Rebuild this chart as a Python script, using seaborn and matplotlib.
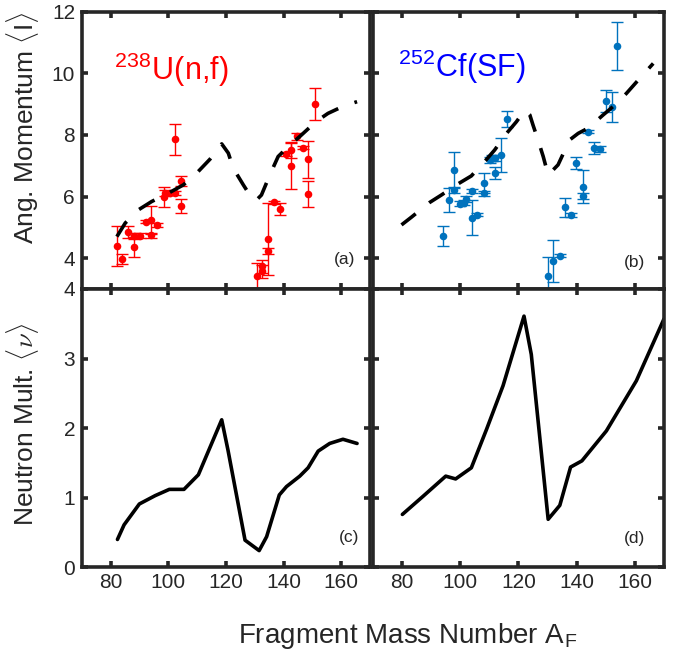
import matplotlib
matplotlib.use('Agg')
import matplotlib.pyplot as plt
import seaborn as sns
import pandas as pd

sns.set_style('ticks')
plt.rcParams['font.family'] = ['Liberation Sans', 'DejaVu Sans']
plt.rcParams['mathtext.fontset'] = 'cm'

# (a) 238U(n,f) angular momentum data
u_mass = [82.1, 84.0, 86.1, 88.2, 88.2, 90.2, 92.2, 94.1, 94.1, 96.2, 98.4, 98.8,
          100.6, 102.4, 102.3, 104.4, 104.4, 130.6, 132.6, 132.6, 134.7, 134.7,
          136.6, 138.7, 140.8, 142.6, 142.6, 144.8, 146.8, 148.6, 148.6, 150.8]
u_spin = [4.40, 3.97, 4.86, 4.36, 4.72, 4.73, 5.19, 5.24, 4.74, 5.08, 5.98, 6.11,
          6.11, 6.11, 7.86, 6.51, 5.70, 3.43, 3.57, 3.73, 4.63, 4.24,
          5.81, 5.59, 7.38, 7.51, 7.00, 7.95, 7.58, 7.21, 6.08, 9.00]
u_err = [0.65, 0.15, 0.20, 0.32, 0.10, 0.08, 0.06, 0.45, 0.08, 0.06, 0.32, 0.10,
         0.06, 0.06, 0.50, 0.17, 0.22, 0.40, 0.22, 0.20, 1.16, 0.10,
         0.04, 0.20, 0.06, 0.25, 0.75, 0.12, 0.05, 0.60, 0.42, 0.53]

# (b) 252Cf(SF) angular momentum data
cf_mass = [94.1, 96.0, 98.0, 98.0, 100.0, 101.3, 102.1, 104.1, 104.1, 105.9, 108.1, 108.1,
           110.1, 111.0, 112.0, 112.0, 113.9, 115.9, 130.2, 131.9, 134.2, 136.1, 138.0,
           139.9, 142.0, 142.0, 143.9, 145.9, 147.9, 150.0, 152.2, 154.0]
cf_spin = [4.72, 5.89, 6.86, 6.22, 5.76, 5.80, 5.91, 6.19, 5.32, 5.41, 6.11, 6.43,
           7.19, 7.25, 6.76, 7.24, 7.35, 8.52, 3.43, 3.91, 4.08, 5.65, 5.41,
           7.10, 6.32, 6.02, 8.11, 7.57, 7.55, 9.10, 8.92, 10.89]
cf_err = [0.32, 0.40, 0.58, 0.10, 0.08, 0.08, 0.10, 0.06, 0.58, 0.05, 0.08, 0.33,
          0.10, 0.10, 0.20, 0.10, 0.54, 0.27, 0.60, 0.69, 0.05, 0.30, 0.07,
          0.19, 0.54, 0.10, 0.06, 0.20, 0.10, 0.35, 0.49, 0.77]

# model curves (dashed)
u_model_mass = [82.1, 85.0, 89.6, 94.2, 100.0, 105.2, 109.8, 114.4, 118.5, 120.8, 122.5,
                126.0, 129.2, 130.6, 132.3, 135.2, 138.1, 141.6, 146.2, 151.2, 155.4, 160.9, 165.5]
u_model_spin = [4.70, 5.14, 5.57, 5.84, 6.11, 6.38, 6.76, 7.21, 7.71, 7.41, 6.92,
                6.38, 5.91, 5.89, 6.05, 6.70, 7.30, 7.62, 8.00, 8.43, 8.70, 8.94, 9.08]
cf_model_mass = [79.8, 83.2, 89.5, 93.5, 99.2, 103.8, 108.4, 111.8, 115.9, 119.3, 122.2,
                 123.9, 125.0, 126.7, 128.5, 130.2, 133.6, 136.5, 137.6, 140.5, 143.9,
                 149.1, 153.1, 157.1, 161.7, 166.3]
cf_model_spin = [5.08, 5.33, 5.81, 6.05, 6.41, 6.67, 7.14, 7.51, 8.05, 8.43, 8.81,
                 8.65, 8.32, 7.84, 7.30, 6.70, 7.03, 7.62, 7.84, 8.05, 8.22,
                 8.65, 8.97, 9.35, 9.84, 10.32]

# (c), (d) neutron multiplicity
u_nu_mass = [82.3, 84.6, 89.9, 95.4, 100.3, 105.4, 110.4, 118.5, 120.7, 126.6, 131.5,
             134.1, 138.5, 141.0, 145.6, 148.5, 152.0, 156.0, 160.6, 165.5]
u_nu = [0.40, 0.61, 0.91, 1.03, 1.12, 1.12, 1.33, 2.12, 1.68, 0.39, 0.24,
        0.44, 1.04, 1.16, 1.31, 1.43, 1.67, 1.78, 1.84, 1.78]
cf_nu_mass = [80.1, 87.2, 95.0, 98.4, 103.8, 109.0, 114.7, 121.9, 124.4, 130.2, 134.2,
              137.9, 141.8, 150.2, 160.5, 170.0]
cf_nu = [0.76, 1.02, 1.31, 1.27, 1.43, 1.98, 2.61, 3.61, 3.06, 0.69, 0.89,
         1.44, 1.53, 1.96, 2.68, 3.57]

RED = '#ff0000'
BLUE = '#0072bd'
SPINE = '#262626'

fig = plt.figure(figsize=(6.87, 6.55), dpi=100)
ax_a = fig.add_axes([0.1194, 0.5588, 0.4192, 0.4233])
ax_b = fig.add_axes([0.5429, 0.5588, 0.4236, 0.4233])
ax_c = fig.add_axes([0.1194, 0.1339, 0.4192, 0.4249])
ax_d = fig.add_axes([0.5429, 0.1339, 0.4236, 0.4249])


def spin_panel(ax, mass, spin, err, color, mmass, mspin):
    df = pd.DataFrame({'A': mass, 'I': spin})
    ax.errorbar(mass, spin, yerr=err, fmt='none', ecolor=color, elinewidth=1,
                capsize=4, capthick=1, zorder=2)
    sns.scatterplot(data=df, x='A', y='I', ax=ax, color=color, s=30,
                    edgecolor=color, linewidth=0, zorder=3)
    sns.lineplot(x=mmass, y=mspin, ax=ax, color='black', lw=2.6, sort=False,
                 estimator=None, linestyle=(0, (5, 4.8)), zorder=4)
    ax.set_ylim(3, 12)
    ax.set_yticks([4, 6, 8, 10, 12])


def nu_panel(ax, mass, nu):
    sns.lineplot(x=mass, y=nu, ax=ax, color='black', lw=2.6, sort=False, estimator=None)
    ax.set_ylim(0, 4)
    ax.set_yticks([0, 1, 2, 3, 4])


spin_panel(ax_a, u_mass, u_spin, u_err, RED, u_model_mass, u_model_spin)
spin_panel(ax_b, cf_mass, cf_spin, cf_err, BLUE, cf_model_mass, cf_model_spin)
nu_panel(ax_c, u_nu_mass, u_nu)
nu_panel(ax_d, cf_nu_mass, cf_nu)

for ax in [ax_a, ax_b, ax_c, ax_d]:
    ax.set_xlim(70, 170)
    ax.set_xticks([80, 100, 120, 140, 160])
    ax.set_xlabel('')
    ax.set_ylabel('')
    for s in ax.spines.values():
        s.set_visible(True)
        s.set_linewidth(2.6)
        s.set_color(SPINE)
    ax.tick_params(direction='in', length=4, width=2.6, color=SPINE,
                   top=True, right=True, labelsize=15, labelcolor='#262626', pad=5)

for ax in [ax_a, ax_b]:
    ax.tick_params(labelbottom=False)
for ax in [ax_b, ax_d]:
    ax.tick_params(labelleft=False)
for ax in [ax_c, ax_d]:
    ax.tick_params(axis='x', pad=4)

ax_a.text(0.108, 0.755, r'$^{\mathregular{238}}$U(n,f)', transform=ax_a.transAxes,
          color=RED, fontsize=22, ha='left', va='baseline')
ax_b.text(0.082, 0.765, r'$^{\mathregular{252}}$Cf(SF)', transform=ax_b.transAxes,
          color='#0000ff', fontsize=22, ha='left', va='baseline')

for ax, lab, xf, yf in [(ax_a, '(a)', 0.913, 0.105), (ax_b, '(b)', 0.90, 0.097),
                         (ax_c, '(c)', 0.927, 0.108), (ax_d, '(d)', 0.90, 0.105)]:
    ax.text(xf, yf, lab, transform=ax.transAxes, fontsize=12.5, ha='center',
            va='center', color='#262626')

fig.text(23 / 687, 1 - 128 / 655, r'Ang. Momentum $\langle$I$\rangle$', rotation=90,
         ha='center', va='center', fontsize=19, color='#262626')
fig.text(23 / 687, 1 - 425 / 655, r'Neutron Mult. $\langle\nu\rangle$', rotation=90,
         ha='center', va='center', fontsize=19, color='#262626')
fig.text(408 / 687, 1 - 636 / 655, r'Fragment Mass Number A$_{\mathregular{F}}$',
         ha='center', va='center', fontsize=20, color='#262626')

fig.savefig('out.png', dpi=100)
